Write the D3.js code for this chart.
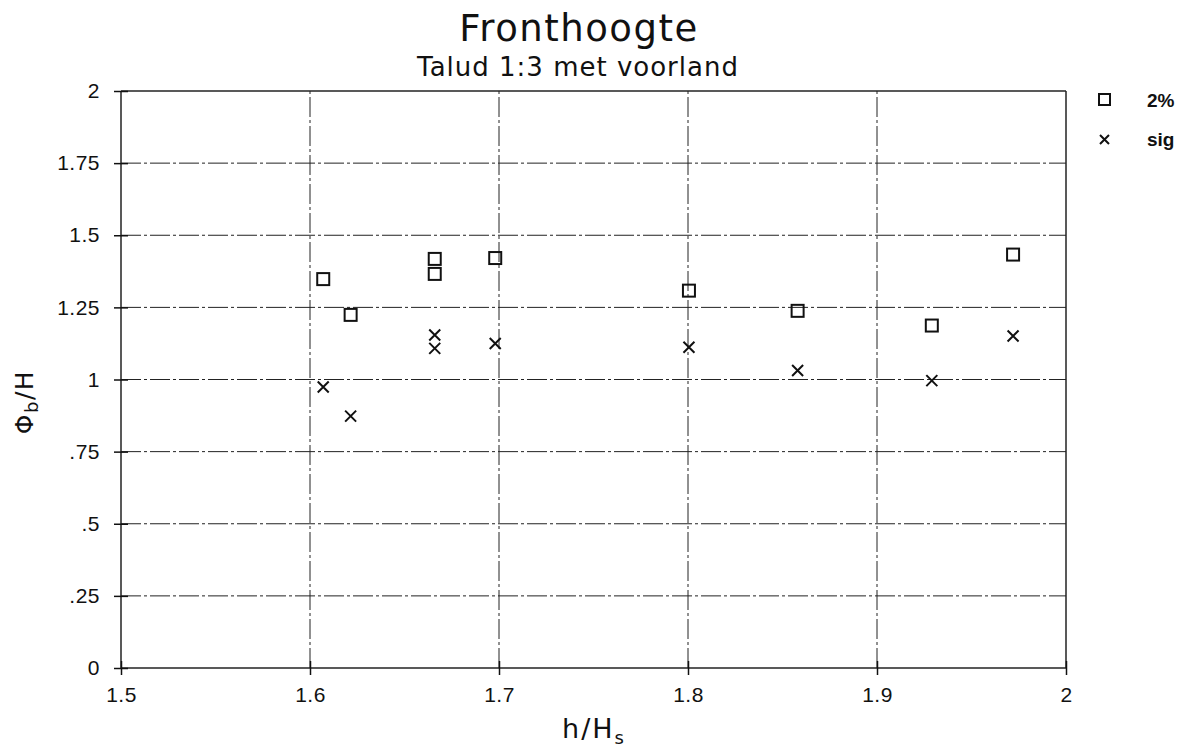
<!DOCTYPE html>
<html><head><meta charset="utf-8">
<script src="https://cdn.jsdelivr.net/npm/d3@7"></script>
<style>body{margin:0;background:#fff}svg{display:block}</style>
</head><body>
<svg id="c" width="1192" height="749"></svg>
<script>
const xTicks = [1.5, 1.6, 1.7, 1.8, 1.9, 2.0];
const xTickLabels = ["1.5", "1.6", "1.7", "1.8", "1.9", "2"];
const yTicks = [0, 0.25, 0.5, 0.75, 1, 1.25, 1.5, 1.75, 2];
const yTickLabels = ["0", ".25", ".5", ".75", "1", "1.25", "1.5", "1.75", "2"];
const xPct2 = [1.607, 1.6215, 1.666, 1.666, 1.698, 1.8005, 1.858, 1.929, 1.972];
const yPct2 = [1.348, 1.224, 1.418, 1.366, 1.421, 1.308, 1.238, 1.187, 1.433];
const xSig = [1.607, 1.6215, 1.666, 1.666, 1.698, 1.8005, 1.858, 1.929, 1.972];
const ySig = [0.974, 0.873, 1.154, 1.108, 1.125, 1.112, 1.031, 0.996, 1.151];

const svg = d3.select("#c");
const x = d3.scaleLinear().domain([1.5, 2.0]).range([121, 1066]);
const y = d3.scaleLinear().domain([0, 2]).range([668, 91]);
const dash = "20,3,3,3";
const font = "'Liberation Sans', Arial, sans-serif";
const tfont = "'DejaVu Sans', sans-serif";

// grid
const g = svg.append("g");
g.selectAll("line.h").data(yTicks).join("line")
  .attr("x1", x(1.5)).attr("x2", x(2.0))
  .attr("y1", d => y(d)).attr("y2", d => y(d))
  .attr("stroke", "#222").attr("stroke-width", d => (d === 2 || d === 0) ? 1.5 : 1)
  .attr("stroke-dasharray", d => (d === 2 || d === 0) ? null : dash);
g.selectAll("line.v").data(xTicks).join("line")
  .attr("y1", y(0)).attr("y2", y(2))
  .attr("x1", d => x(d)).attr("x2", d => x(d))
  .attr("stroke", "#222").attr("stroke-width", d => (d === 2.0 || d === 1.5) ? 1.5 : 1)
  .attr("stroke-dasharray", d => (d === 2.0 || d === 1.5) ? null : dash);

// axes
const yAxis = d3.axisLeft(y).tickValues(yTicks).tickSize(7).tickPadding(14)
  .tickFormat((d, i) => yTickLabels[i]);
const ya = svg.append("g").attr("transform", `translate(${x(1.5)},0)`).call(yAxis);
ya.select(".domain").remove();
ya.selectAll(".tick line").attr("x2", -7).attr("x1", 7).attr("stroke", "#111").attr("stroke-width", 1.5);
ya.selectAll("text").attr("font-family", font).attr("font-size", 21).attr("letter-spacing", 0.5).attr("fill", "#111");

const xAxis = d3.axisBottom(x).tickValues(xTicks).tickSize(7).tickPadding(12)
  .tickFormat((d, i) => xTickLabels[i]);
const xa = svg.append("g").attr("transform", `translate(0,${y(0)})`).call(xAxis);
xa.select(".domain").remove();
xa.selectAll(".tick line").attr("y1", -7).attr("y2", 7).attr("stroke", "#111").attr("stroke-width", 1.5);
xa.selectAll("text").attr("font-family", font).attr("font-size", 21).attr("letter-spacing", 0.5).attr("fill", "#111");

// markers
const sq = 12;
svg.append("g").selectAll("rect").data(xPct2.map((v, i) => [v, yPct2[i]])).join("rect")
  .attr("x", d => x(d[0]) - sq / 2).attr("y", d => y(d[1]) - sq / 2)
  .attr("width", sq).attr("height", sq)
  .attr("fill", "none").attr("stroke", "#111").attr("stroke-width", 2);
const cr = 5.5;
const crossPath = (cx, cy) => `M${cx - cr},${cy - cr}L${cx + cr},${cy + cr}M${cx - cr},${cy + cr}L${cx + cr},${cy - cr}`;
svg.append("g").selectAll("path").data(xSig.map((v, i) => [v, ySig[i]])).join("path")
  .attr("d", d => crossPath(x(d[0]), y(d[1])))
  .attr("fill", "none").attr("stroke", "#111").attr("stroke-width", 2);

// titles
svg.append("text").attr("x", 579).attr("y", 41).attr("text-anchor", "middle")
  .attr("font-family", tfont).attr("font-size", 37).attr("letter-spacing", 1.5)
  .attr("fill", "#111").text("Fronthoogte");
svg.append("text").attr("x", 578).attr("y", 76).attr("text-anchor", "middle")
  .attr("font-family", tfont).attr("font-size", 26).attr("letter-spacing", 1)
  .attr("fill", "#111").text("Talud 1:3 met voorland");

// axis labels
const xl = svg.append("text").attr("x", 594).attr("y", 738).attr("text-anchor", "middle")
  .attr("font-family", tfont).attr("font-size", 27).attr("letter-spacing", 2).attr("fill", "#111");
xl.append("tspan").text("h/H");
xl.append("tspan").attr("font-size", 18).attr("dy", 6).text("s");

const yl = svg.append("text").attr("transform", "translate(33,402) rotate(-90)").attr("text-anchor", "middle")
  .attr("font-family", tfont).attr("font-size", 25).attr("letter-spacing", 1.5).attr("fill", "#111");
yl.append("tspan").text("Φ");
yl.append("tspan").attr("font-size", 18).attr("dy", 5).text("b");
yl.append("tspan").attr("dy", -5).text("/H");

// legend
const lg = svg.append("g");
lg.append("rect").attr("x", 1099).attr("y", 94).attr("width", 11).attr("height", 11)
  .attr("fill", "none").attr("stroke", "#111").attr("stroke-width", 2);
lg.append("path").attr("d", `M1100,135L1109,144M1100,144L1109,135`).attr("stroke", "#111").attr("stroke-width", 2);
lg.append("text").attr("x", 1147).attr("y", 107).attr("font-family", font).attr("font-weight", "bold")
  .attr("font-size", 19).attr("fill", "#111").text("2%");
lg.append("text").attr("x", 1147).attr("y", 146).attr("font-family", font).attr("font-weight", "bold")
  .attr("font-size", 19).attr("fill", "#111").text("sig");
</script>
</body></html>
